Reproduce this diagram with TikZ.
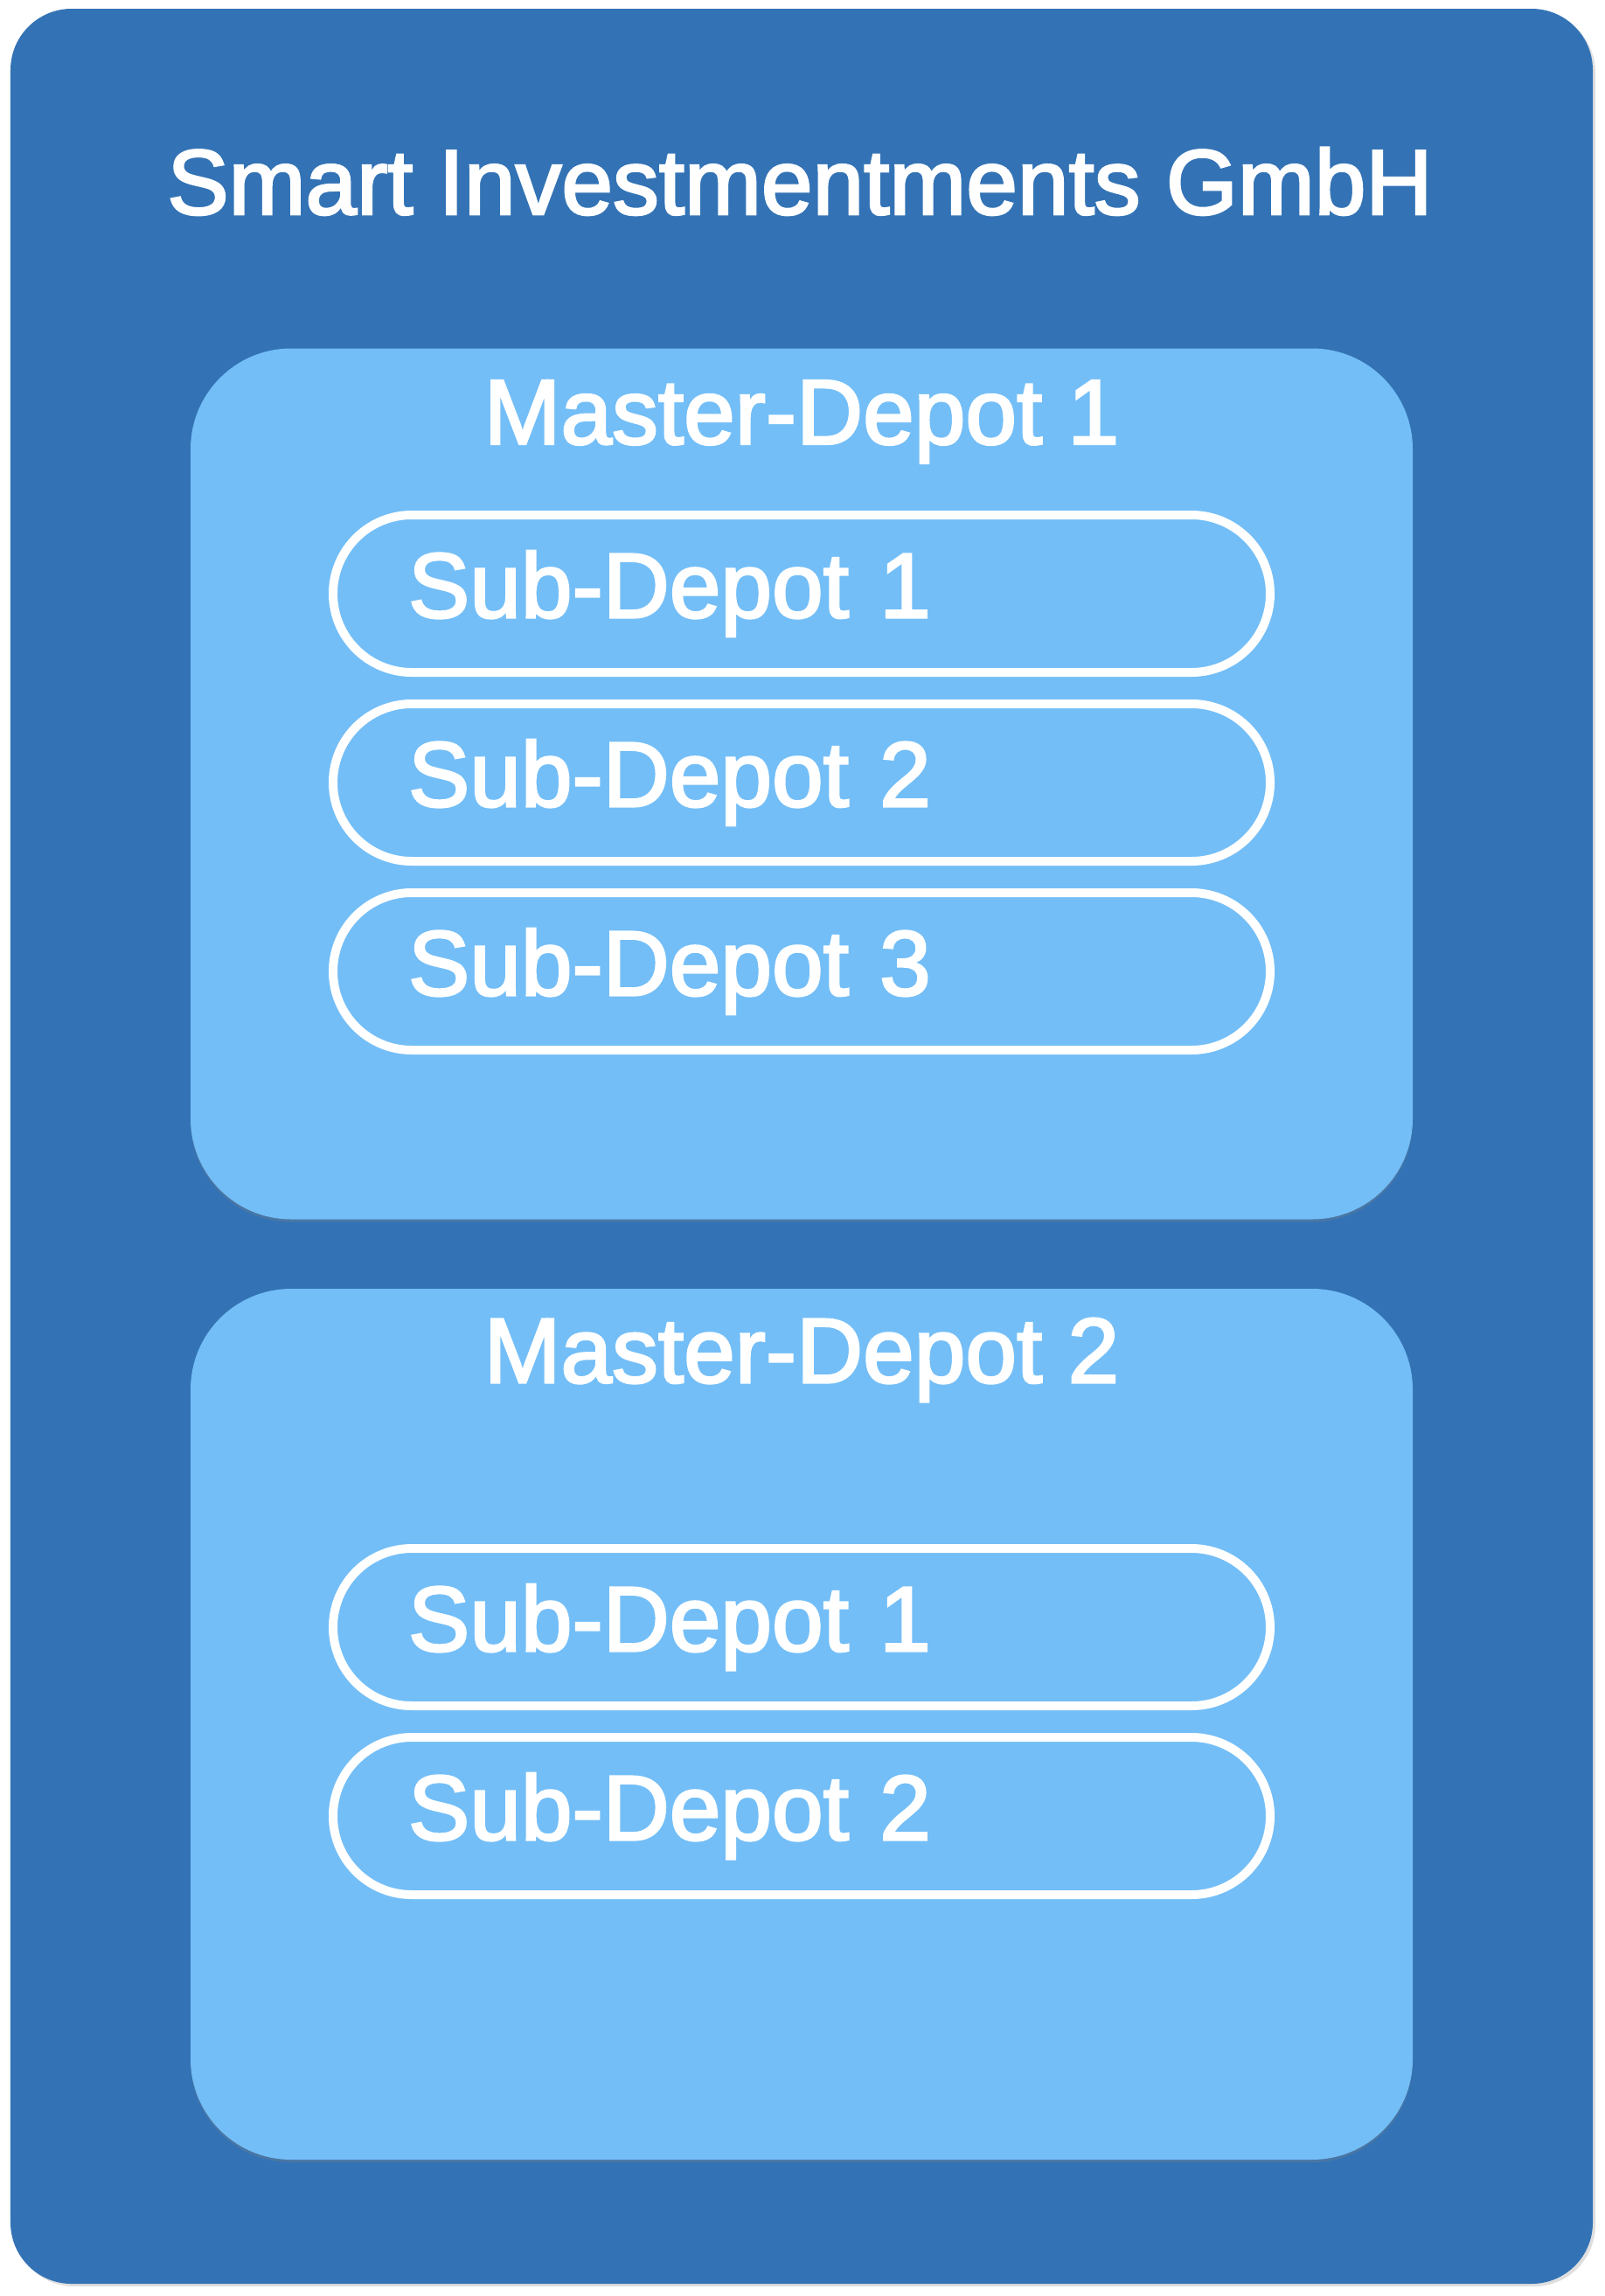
\documentclass[tikz,border=0pt]{standalone}
\usepackage{fontspec}
\setmainfont{Liberation Sans}[BoldFont={Liberation Sans},BoldFeatures={FakeBold=2.5}]
\usetikzlibrary{shadows}
\definecolor{firmblue}{RGB}{51,115,181}
\definecolor{depotblue}{RGB}{115,190,247}

\begin{document}
\begin{tikzpicture}[font=\fontsize{30}{36}\selectfont\bfseries,
  firm/.style={shape=rectangle,fill=firmblue,rounded corners=0.7cm,inner sep=0pt,minimum width=18.10cm,minimum height=26.02cm,drop shadow={opacity=0.25,shadow xshift=0.03cm,shadow yshift=-0.03cm}},
  master/.style={shape=rectangle,fill=depotblue,rounded corners=1.15cm,inner sep=0pt,minimum width=13.98cm,minimum height=9.96cm,drop shadow={opacity=0.3,shadow xshift=0cm,shadow yshift=-0.03cm}},
  sub/.style={shape=rectangle,draw=white,line width=0.1cm,fill=depotblue,rounded corners=0.9cm,text=white,align=left,text width=9.0cm,inner xsep=0.86cm,inner ysep=0pt,minimum height=1.80cm,drop shadow={opacity=0.3,shadow xshift=0cm,shadow yshift=-0.03cm}},
  caption/.style={text=white,anchor=base,inner sep=0pt}]
\def\cx{9.17};
\def\dy{2.16};

\useasboundingbox (0,0) rectangle (18.36,-26.26);

\node[firm] (F) at (9.17,-13.11) {};
\node[caption] (FT) at (9.15,-2.45) {Smart Investmentments GmbH};

\node[master] (M1) at (\cx,-8.965) {};
\node[caption] (M1T) at ([yshift=-1.10cm]M1.north) {Master-Depot 1};
\foreach \i in {1,2,3}
  \node[sub] (S1\i) at (\cx,{-6.79-(\i-1)*\dy}) {Sub-Depot \i};

\node[master] (M2) at (\cx,-19.72) {};
\node[caption] (M2T) at ([yshift=-1.08cm]M2.north) {Master-Depot 2};
\foreach \i in {1,2}
  \node[sub] (S2\i) at (\cx,{-18.61-(\i-1)*\dy}) {Sub-Depot \i};
\end{tikzpicture}
\end{document}
